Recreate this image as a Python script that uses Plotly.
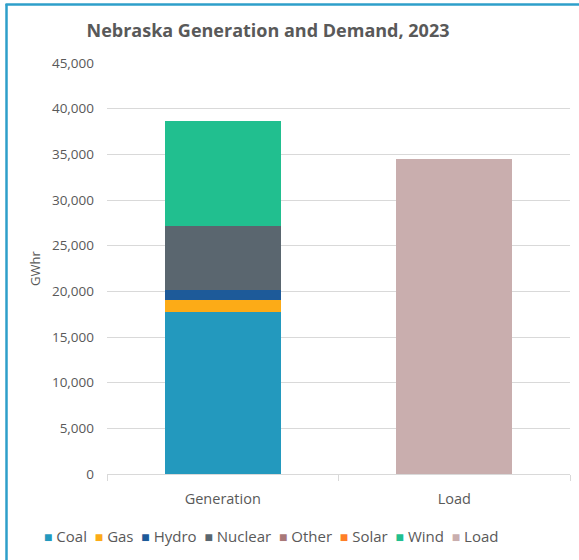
import plotly.graph_objects as go

categories = ["Generation", "Load"]
sources = ["Coal", "Gas", "Hydro", "Nuclear", "Other", "Solar", "Wind"]
generation = [17700, 1370, 1050, 7000, 0, 0, 11570]
load_value = 34510
colors = {
    "Coal": "#2399be",
    "Gas": "#fcab17",
    "Hydro": "#1d5a99",
    "Nuclear": "#5a666f",
    "Other": "#a87878",
    "Solar": "#ff7f27",
    "Wind": "#21bf8f",
    "Load": "#c9aeae",
}
tick_vals = list(range(0, 45001, 5000))

FONT = "Open Sans"
GREY = "#595959"

fig = go.Figure()
for name, val in zip(sources, generation):
    fig.add_trace(go.Bar(x=categories, y=[val, None], name=name,
                         marker=dict(color=colors[name], line=dict(width=0)),
                         showlegend=False))
fig.add_trace(go.Bar(x=categories, y=[None, load_value], name="Load",
                     marker=dict(color=colors["Load"], line=dict(width=0)),
                     showlegend=False))

# legend as text
items = sources + ["Load"]
nb = "\u00a0"
legend_text = (nb * 2).join(
    f'<span style="color:{colors[n]};font-size:14px">■</span>{nb}{n}' for n in items
)

W, H = 579, 560
L, R, T, B = 107, 9, 63, 86
pw, ph = W - L - R, H - T - B

def px_x(x):
    return (x - L) / pw

def px_y(y):
    return (H - B - y) / ph

fig.update_layout(
    width=W, height=H,
    margin=dict(l=L, r=R, t=T, b=B),
    paper_bgcolor="white", plot_bgcolor="white",
    barmode="stack", bargap=0.5,
    font=dict(family=FONT, color=GREY, size=13),
    title=dict(text="<b>Nebraska Generation and Demand, 2023</b>",
               x=268 / W, xanchor="center", y=1 - 31 / H, yanchor="middle",
               font=dict(size=18, color=GREY, family=FONT)),
    xaxis=dict(type="category", showgrid=False, showline=True,
               linecolor="#d9d9d9", linewidth=1, ticks="outside",
               tickson="boundaries", ticklen=6, tickcolor="#d9d9d9",
               tickfont=dict(size=14.5, color=GREY), ticklabelstandoff=12),
    yaxis=dict(range=[0, 45000], tickvals=tick_vals, tickformat=",",
               showgrid=True, gridcolor="#d9d9d9", gridwidth=1,
               zeroline=False, showline=False,
               tickfont=dict(size=13.5, color=GREY), ticklabelstandoff=12,
               title=dict(text="GWhr", font=dict(size=13, color=GREY), standoff=8)),
    annotations=[dict(text=legend_text, xref="paper", yref="paper",
                      x=px_x(271), y=px_y(536), xanchor="center", yanchor="middle",
                      showarrow=False, font=dict(size=15, color=GREY, family=FONT))],
    shapes=[
        dict(type="line", xref="paper", yref="paper",
             x0=px_x(6.5), x1=px_x(6.5), y0=px_y(570), y1=px_y(4),
             line=dict(color="#2e9fca", width=2.5)),
        dict(type="line", xref="paper", yref="paper",
             x0=px_x(5.5), x1=px_x(590), y0=px_y(4.5), y1=px_y(4.5),
             line=dict(color="#2e9fca", width=2.5)),
    ],
)

fig.write_html("out.html")
